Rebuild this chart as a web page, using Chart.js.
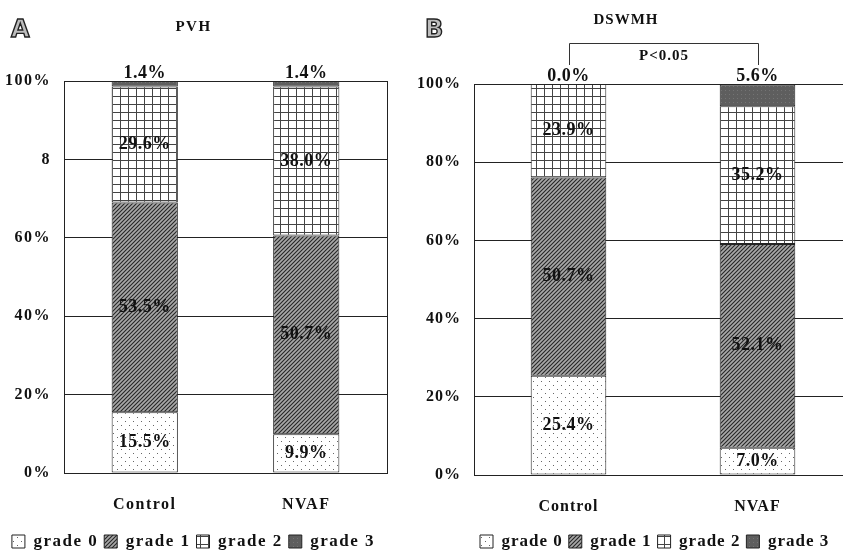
<!DOCTYPE html>
<html>
<head>
    <title>PVH / DSWMH grades</title>
    <script src="https://cdn.jsdelivr.net/npm/chart.js"></script>
    <style>
        body {
            margin: 0;
            background: #fff;
            overflow: hidden;
            width: 843px;
            height: 560px;
            position: relative;
        }

        .panel {
            position: absolute;
            top: 0;
        }

        #panelA { left: 0; }
        #panelB { left: 400px; }
    </style>
</head>
<body>
    <div class="panel" id="panelA"><canvas id="chartA" width="400" height="560"></canvas></div>
    <div class="panel" id="panelB"><canvas id="chartB" width="460" height="560"></canvas></div>

    <script>
        // data (percent of patients per grade)
        const categories = ['Control', 'NVAF'];
        const gradeNames = ['grade 0', 'grade 1', 'grade 2', 'grade 3'];

        const pvhGrade0 = [15.5, 9.9];
        const pvhGrade1 = [53.5, 50.7];
        const pvhGrade2 = [29.6, 38.0];
        const pvhGrade3 = [1.4, 1.4];

        const dswmhGrade0 = [25.4, 7.0];
        const dswmhGrade1 = [50.7, 52.1];
        const dswmhGrade2 = [23.9, 35.2];
        const dswmhGrade3 = [0.0, 5.6];

        const pvhTicks = ['0%', '20%', '40%', '60%', '8', '100%'];
        const dswmhTicks = ['0%', '20%', '40%', '60%', '80%', '100%'];

        const serif = "'Liberation Serif', 'Times New Roman', serif";

        function makePattern(kind) {
            const c = document.createElement('canvas');
            const g = c.getContext('2d');
            if (kind === 'dots') {
                c.width = 8; c.height = 8;
                g.fillStyle = '#fff'; g.fillRect(0, 0, 8, 8);
                g.fillStyle = '#666';
                g.fillRect(1, 1, 1, 1);
                g.fillRect(5, 5, 1, 1);
            } else if (kind === 'hatch') {
                c.width = 4; c.height = 4;
                g.fillStyle = '#a8a8a8'; g.fillRect(0, 0, 4, 4);
                g.strokeStyle = '#262626';
                g.lineWidth = 1.1;
                g.beginPath();
                g.moveTo(0, 4); g.lineTo(4, 0);
                g.moveTo(-1, 1); g.lineTo(1, -1);
                g.moveTo(3, 5); g.lineTo(5, 3);
                g.stroke();
            } else if (kind === 'grid') {
                c.width = 8; c.height = 8;
                g.fillStyle = '#fff'; g.fillRect(0, 0, 8, 8);
                g.fillStyle = '#444';
                g.fillRect(0, 0, 8, 1);
                g.fillRect(0, 0, 1, 8);
            } else {
                c.width = 4; c.height = 4;
                g.fillStyle = '#5e5e5e'; g.fillRect(0, 0, 4, 4);
                g.fillStyle = '#747474';
                g.fillRect(1, 2, 1, 1);
            }
            return g.createPattern(c, 'repeat');
        }

        const fills = [makePattern('dots'), makePattern('hatch'), makePattern('grid'), makePattern('solid')];

        // text in the figure is set with a bit of tracking
        const spacing = {
            id: 'spacing',
            beforeUpdate(chart, args, opts) { chart.ctx.letterSpacing = opts.value; },
            beforeDraw(chart, args, opts) { chart.ctx.letterSpacing = opts.value; }
        };

        // panel letter, plot frame, segment labels and the significance bracket
        const decor = {
            id: 'decor',
            beforeDatasetsDraw(chart) {
                const a = chart.chartArea;
                const ctx = chart.ctx;
                ctx.save();
                ctx.strokeStyle = '#222';
                ctx.lineWidth = 1;
                ctx.strokeRect(a.left + 0.5, a.top + 0.5, a.right - a.left, a.bottom - a.top);
                ctx.restore();
            },
            afterDraw(chart, args, opts) {
                const ctx = chart.ctx;
                ctx.save();
                ctx.letterSpacing = '0px';
                ctx.font = 'bold 24px "DejaVu Sans", sans-serif';
                ctx.textBaseline = 'alphabetic';
                ctx.textAlign = 'left';
                ctx.fillStyle = '#bdbdbd';
                ctx.strokeStyle = '#222';
                ctx.lineWidth = 1.4;
                ctx.fillText(opts.letter, opts.letterX, 37);
                ctx.strokeText(opts.letter, opts.letterX, 37);

                ctx.letterSpacing = '0.5px';
                ctx.font = 'bold 18px ' + serif;
                ctx.fillStyle = '#111';
                ctx.textAlign = 'center';
                const n = chart.data.datasets.length;
                chart.data.datasets.forEach((ds, i) => {
                    const meta = chart.getDatasetMeta(i);
                    meta.data.forEach((el, j) => {
                        const txt = ds.data[j].toFixed(1) + '%';
                        if (i === n - 1) {
                            ctx.textBaseline = 'alphabetic';
                            ctx.fillText(txt, el.x, el.y - 3);
                        } else {
                            ctx.textBaseline = 'middle';
                            ctx.fillText(txt, el.x, (el.y + el.base) / 2);
                        }
                    });
                });

                if (opts.bracket) {
                    const x = chart.scales.x;
                    const x0 = Math.round(x.getPixelForValue(0)) + 0.5;
                    const x1 = Math.round(x.getPixelForValue(1)) + 0.5;
                    const yTop = 43.5, yBot = 65;
                    ctx.strokeStyle = '#333';
                    ctx.lineWidth = 1;
                    ctx.beginPath();
                    ctx.moveTo(x0, yBot); ctx.lineTo(x0, yTop);
                    ctx.lineTo(x1, yTop); ctx.lineTo(x1, yBot);
                    ctx.stroke();
                    ctx.letterSpacing = '1px';
                    ctx.font = 'bold 15px ' + serif;
                    ctx.textBaseline = 'middle';
                    ctx.fillText(opts.bracket, (x0 + x1) / 2, 56);
                }
                ctx.restore();
            }
        };

        function buildDatasets(series) {
            return series.map((values, i) => ({
                label: gradeNames[i],
                data: values,
                backgroundColor: fills[i],
                borderColor: '#222',
                borderWidth: 1,
                borderSkipped: false
            }));
        }

        function buildChart(id, cfg) {
            return new Chart(document.getElementById(id), {
                type: 'bar',
                data: {
                    labels: categories,
                    datasets: buildDatasets(cfg.series)
                },
                options: {
                    responsive: false,
                    animation: false,
                    barPercentage: cfg.barPct,
                    categoryPercentage: 1.0,
                    layout: { padding: { left: 0, right: cfg.padRight, top: 0, bottom: 0 } },
                    scales: {
                        x: {
                            stacked: true,
                            grid: { display: false },
                            border: { color: '#222' },
                            ticks: {
                                color: '#111',
                                padding: 14,
                                font: { family: serif, size: 16, weight: 'bold' }
                            },
                            afterFit: s => { s.height = cfg.xHeight; }
                        },
                        y: {
                            stacked: true,
                            min: 0,
                            max: 100,
                            grid: { color: '#222', drawTicks: false },
                            border: { color: '#222' },
                            ticks: {
                                stepSize: 20,
                                color: '#111',
                                padding: 13,
                                font: { family: serif, size: 16, weight: 'bold' },
                                callback: v => cfg.ticks[v / 20]
                            },
                            afterFit: s => { s.width = cfg.yWidth; }
                        }
                    },
                    plugins: {
                        title: {
                            display: true,
                            text: cfg.title,
                            color: '#111',
                            font: { family: serif, size: 15, weight: 'bold' },
                            padding: { top: cfg.titleTop, bottom: cfg.titleBottom }
                        },
                        legend: {
                            position: 'bottom',
                            fullSize: cfg.legendFull,
                            align: cfg.legendAlign,
                            labels: {
                                color: '#111',
                                boxWidth: 13,
                                boxHeight: 13,
                                padding: 6,
                                font: { family: serif, size: 17, weight: 'bold' }
                            }
                        },
                        tooltip: { enabled: false },
                        spacing: { value: cfg.tracking },
                        decor: cfg.decor
                    }
                },
                plugins: [spacing, decor]
            });
        }

        buildChart('chartA', {
            series: [pvhGrade0, pvhGrade1, pvhGrade2, pvhGrade3],
            ticks: pvhTicks,
            title: 'PVH',
            titleTop: 18,
            titleBottom: 45,
            barPct: 0.41,
            padRight: 13,
            yWidth: 64,
            xHeight: 54,
            legendFull: true,
            legendAlign: 'center',
            tracking: '1.5px',
            decor: { letter: 'A', letterX: 11, bracket: null }
        });

        buildChart('chartB', {
            series: [dswmhGrade0, dswmhGrade1, dswmhGrade2, dswmhGrade3],
            ticks: dswmhTicks,
            title: 'DSWMH',
            titleTop: 11,
            titleBottom: 55,
            barPct: 0.40,
            padRight: 8,
            yWidth: 74,
            xHeight: 52,
            legendFull: false,
            legendAlign: 'start',
            tracking: '1px',
            decor: { letter: 'B', letterX: 25, bracket: 'P<0.05' }
        });
    </script>
</body>
</html>
